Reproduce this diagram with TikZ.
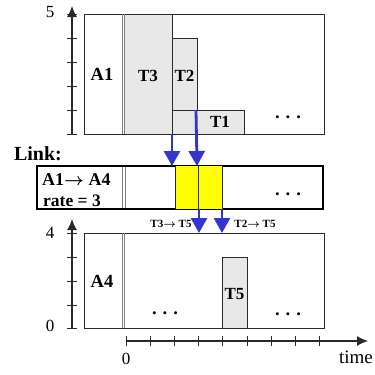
\documentclass[tikz,border=0pt]{standalone}
\usepackage{fontspec}
\setmainfont{Liberation Serif}
\usetikzlibrary{arrows.meta,calc}
\definecolor{edge}{HTML}{2A2A2A}
\definecolor{taskgray}{HTML}{E8E8E8}
\definecolor{flowblue}{HTML}{3434D0}
\definecolor{linkyellow}{HTML}{FFFF00}
\definecolor{divgray}{HTML}{808080}

\begin{document}
\begin{tikzpicture}[x=1pt,y=-1pt,>=Latex,line cap=butt,
    frame/.style={draw=edge,line width=0.9pt},
    task/.style={draw=edge,line width=0.9pt,fill=taskgray},
    flow/.style={flowblue,line width=2.8pt,-{Triangle[width=16pt,length=15pt]}},
    axis/.style={edge,line width=1.2pt,-{Latex[width=10pt,length=11pt]}},
    lbl/.style={font=\fontsize{18.5}{20}\selectfont\bfseries\boldmath},
    tsk/.style={font=\fontsize{17}{19}\selectfont\bfseries},
    small/.style={font=\fontsize{11}{12}\selectfont\bfseries\boldmath},
    num/.style={font=\fontsize{17}{19}\selectfont}]
  \useasboundingbox (0,0) rectangle (375,375);
  % sender A1
  \draw[axis] (72,134) -- (72,6);
  \foreach \y in {14,38,62,86,110,134}{ \draw[edge,line width=1pt] (67,\y) -- (77,\y); }
  \node[num] (y5) at (50,12) {5};
  \draw[frame] (84,14) rectangle (324,134);
  \draw[task] (124,14) rectangle (172,134);
  \draw[task] (172,110) rectangle (244,134);
  \draw[task] (172,38) rectangle (197,110);
  \foreach \x in {122.3,124.7}{ \draw[divgray,line width=0.8pt] (\x,14) -- (\x,134); }
  \node[lbl] (a1) at (102,74) {A1};
  \node[tsk] (t3) at (148,76) {T3};
  \node[tsk] (t2) at (184.5,76) {T2};
  \node[tsk] (t1) at (220,122) {T1};
  \node[lbl] (dotsA) at (288,117) {.\hspace{6pt}.\hspace{6pt}.};
  % link
  \node[lbl,font=\fontsize{20}{22}\selectfont\bfseries] (link) at (38,154) {Link:};
  \draw[draw=black,line width=2.2pt] (37,166) rectangle (323,209);
  \fill[linkyellow] (175,166) rectangle (222,209);
  \draw[edge,line width=0.9pt] (175,166) -- (175,209) (198,166) -- (198,209) (222,166) -- (222,209);
  \foreach \x in {122.8,125.2}{ \draw[divgray,line width=0.8pt] (\x,167) -- (\x,208); }
  \node[lbl,anchor=west,inner sep=0pt,font=\fontsize{18}{20}\selectfont\bfseries\boldmath] (route) at (42,180) {A1$\rightarrow$ A4};
  \node[lbl,anchor=west,inner sep=0pt,font=\fontsize{17.5}{19}\selectfont\bfseries] (rate) at (43,201) {rate = 3};
  \node[lbl] (dotsL) at (288,194) {.\hspace{6pt}.\hspace{6pt}.};
  % flows
  \coordinate (s3) at (172,134);
  \coordinate (s2) at (196,110);
  \coordinate (i3) at (172,166);
  \coordinate (i2) at (197,166);
  \coordinate (o3) at (199,209);
  \coordinate (o2) at (222,209);
  \coordinate (r3) at (199,233);
  \coordinate (r2) at (222,233);
  \draw[flow] (s3) -- (i3);
  \draw[flow] (s2) -- (i2);
  \draw[flow] (o3) -- (r3);
  \draw[flow] (o2) -- (r2);
  \node[small] (f3) at (171,224) {T3$\rightarrow$ T5};
  \node[small] (f2) at (255,224) {T2$\rightarrow$ T5};
  % receiver A4
  \draw[axis] (72,328) -- (72,219);
  \foreach \y in {233,257,281,305,328}{ \draw[edge,line width=1pt] (67,\y) -- (77,\y); }
  \node[num] (y4) at (50,233) {4};
  \node[num] (y0) at (50,326) {0};
  \draw[frame] (84,233) rectangle (324,328);
  \draw[task] (222,257) rectangle (247,328);
  \foreach \x in {122.3,124.7}{ \draw[divgray,line width=0.8pt] (\x,233) -- (\x,328); }
  \node[lbl] (a4) at (102,281) {A4};
  \node[tsk] (t5) at (234.5,294) {T5};
  \node[lbl] (dotsB) at (165,313) {.\hspace{6pt}.\hspace{6pt}.};
  \node[lbl] (dotsC) at (288,314) {.\hspace{6pt}.\hspace{6pt}.};
  % time
  \draw[axis] (126,341) -- (368,341);
  \foreach \i in {0,...,8}{ \draw[edge,line width=1pt] (126+24.2*\i,336) -- (126+24.2*\i,346); }
  \node[num] (t0) at (126,359) {0};
  \node[num,font=\fontsize{19}{21}\selectfont] (time) at (356,357) {time};
\end{tikzpicture}
\end{document}
